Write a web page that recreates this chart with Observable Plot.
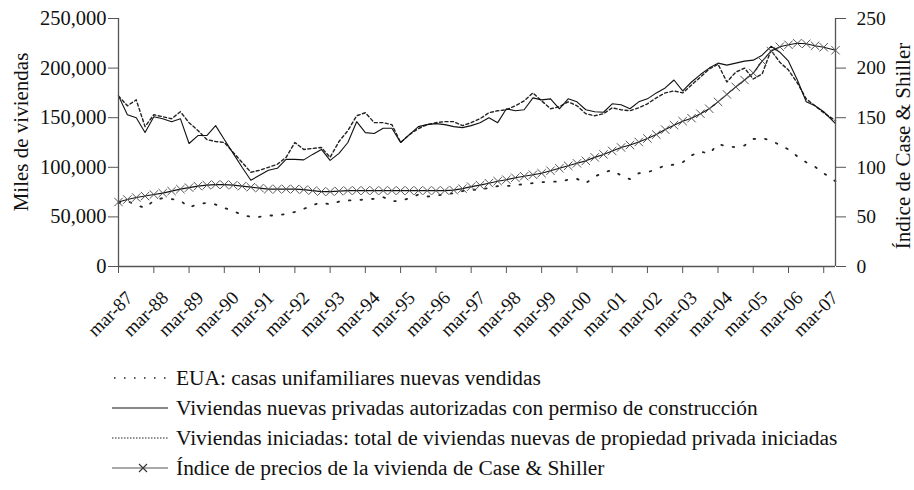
<!DOCTYPE html>
<html><head><meta charset="utf-8">
<script src="https://cdn.jsdelivr.net/npm/d3@7"></script>
<script src="https://cdn.jsdelivr.net/npm/@observablehq/plot@0.6"></script>
<style>
body{margin:0;background:#fff;font-family:"Liberation Serif","DejaVu Serif",serif;}
#chart{position:absolute;left:0;top:0;}
#overlay{position:absolute;left:0;top:0;width:914px;height:490px;pointer-events:none}
.row{position:absolute;left:112px;height:24px;display:flex;align-items:center;font-size:20px;color:#111;white-space:nowrap}
.row svg{margin-right:6px;flex:none}
.row span{display:inline-block;transform:scaleX(1.07);transform-origin:left center}
.ylab{position:absolute;color:#111;white-space:nowrap;transform:translate(-50%,-50%) rotate(-90deg)}
</style></head><body>
<div id="chart"></div>
<div id="overlay"></div>
<script>
const quarters = [
"1987-03","1987-06","1987-09","1987-12","1988-03","1988-06","1988-09","1988-12",
"1989-03","1989-06","1989-09","1989-12","1990-03","1990-06","1990-09","1990-12",
"1991-03","1991-06","1991-09","1991-12","1992-03","1992-06","1992-09","1992-12",
"1993-03","1993-06","1993-09","1993-12","1994-03","1994-06","1994-09","1994-12",
"1995-03","1995-06","1995-09","1995-12","1996-03","1996-06","1996-09","1996-12",
"1997-03","1997-06","1997-09","1997-12","1998-03","1998-06","1998-09","1998-12",
"1999-03","1999-06","1999-09","1999-12","2000-03","2000-06","2000-09","2000-12",
"2001-03","2001-06","2001-09","2001-12","2002-03","2002-06","2002-09","2002-12",
"2003-03","2003-06","2003-09","2003-12","2004-03","2004-06","2004-09","2004-12",
"2005-03","2005-06","2005-09","2005-12","2006-03","2006-06","2006-09","2006-12",
"2007-03","2007-07"];

// EUA: casas unifamiliares nuevas vendidas (miles)
const sales = [
64,66,62,59,66.5,69,68,66.5,59.5,63,
64,62.5,59,56,52,50,50,51.4,51.4,53,
55,58,62,64.5,62.5,65.5,66.5,67,67.5,68.2,
70,66,66,69,72.5,70.5,71.5,72.6,74,76,
77,78,79,81,81,82,83,84,85,85.5,
85.5,87.5,88.4,84,90.5,95,97,91.7,88,94,
95,98,102,102.6,105,112,116,113.6,123.5,121,
120.3,122,128.5,129.3,127,122.5,118,111,105,100.5,
94,86];

// Viviendas nuevas privadas autorizadas con permiso de construcción (miles)
const permits = [
172,153,150,135,151,149,146,149,124,132,
132,142,128,114,100,87,92,97,99,108,
108,107.5,113,118,107,114,125,146,135,134,
139.4,139.4,125,133,141,143,144,143,141,140,
142,145,150,145,159,157,158,170,168,169,
159,169,166,158,156,155.5,164,163,159,166,
169,175,180,188,177,186,193.5,200,205,203,
205,207,208,213,222,216,207,188,166,162,
156,144];

// Viviendas iniciadas: total de viviendas nuevas de propiedad privada iniciadas (miles)
const starts = [
172,162,168,141,153,151,149,156,145,137,
128,126,125,115,105,95,97,100,103,110,
125,118,119,120,110,126,137,152,155,145,
145,143,125,133,139,143,145,146,146,142,
145,149,155,157,158,162,167,175,167,159,
161,166,162,154,152,154,160,158,157,160,
164,170,175,177,175,183,191,199,204,186,
196,200,189,194,218,206,198,185,169,162,
155,147];

// Índice de precios de la vivienda de Case & Shiller
const caseShiller = [
65,67.5,69.5,71,72.5,74,76,78,79.5,81,
82,82.5,82.5,82,81,80,79,78,78,78,
78,77.5,76.5,75.5,75.5,76,76.5,76.5,76.5,76.5,
76.5,76.5,76.5,76.5,76.5,76.5,76.5,76.5,77,78.5,
80.5,82,84,86,87.5,89.5,91,92.5,94,96.5,
99,101.5,104,106.5,110,113,116.5,120,122.5,125.5,
129,133,138,142.5,146.5,149.5,154,159,166,173.5,
181,188,195,207,217,221.5,223.5,225,224.5,222.5,
221,218];

const yTicks = [0, 50000, 100000, 150000, 200000, 250000];
const rightTicks = [0, 50, 100, 150, 200, 250];
const xTickYears = ["87","88","89","90","91","92","93","94","95","96","97","98","99","00","01","02","03","04","05","06","07"];
const legendItems = [
  "EUA: casas unifamiliares nuevas vendidas",
  "Viviendas nuevas privadas autorizadas con permiso de construcción",
  "Viviendas iniciadas: total de viviendas nuevas de propiedad privada iniciadas",
  "Índice de precios de la vivienda de Case & Shiller"
];

const parse = d3.utcParse("%Y-%m");
const dates = quarters.map(parse);
const toRows = (vals, k) => vals.map((v, i) => ({date: dates[i], v: v * k}));
const salesRows = toRows(sales, 1000);
const permitRows = toRows(permits, 1000);
const startRows = toRows(starts, 1000);
const csRows = toRows(caseShiller, 1000); // right axis shares the pixel range (0–250 ↔ 0–250,000)

const xStart = parse("1987-03"), xEnd = parse("2007-07");
const marchTicks = xTickYears.map(y => parse((+y < 50 ? "20" : "19") + y + "-03"));
const tickLabels = marchTicks.map((d, i) => ({date: d, label: "mar-" + xTickYears[i]}));
const font = '"Liberation Serif","DejaVu Serif",serif';

const chart = Plot.plot({
  width: 914, height: 350,
  marginLeft: 118, marginRight: 79, marginTop: 18, marginBottom: 84,
  style: {fontFamily: font, fontSize: "19px", color: "#111", background: "#fff", overflow: "visible"},
  x: {type: "utc", domain: [xStart, xEnd]},
  y: {domain: [0, 250000]},
  marks: [
    Plot.line(salesRows, {x: "date", y: "v", stroke: "#222", strokeWidth: 1.8, strokeDasharray: "1.6,10"}),
    Plot.line(startRows, {x: "date", y: "v", stroke: "#222", strokeWidth: 1.4, strokeDasharray: "3,2.5"}),
    Plot.line(permitRows, {x: "date", y: "v", stroke: "#111", strokeWidth: 1.1}),
    Plot.line(csRows, {x: "date", y: "v", stroke: "#111", strokeWidth: 1.1}),
    Plot.dot(csRows, {x: "date", y: "v", symbol: "times", r: 3.9, stroke: "#555", strokeWidth: 1}),
    Plot.ruleX([xStart], {stroke: "#555", strokeWidth: 1.3}),
    Plot.ruleX([xEnd], {stroke: "#555", strokeWidth: 1.3}),
    Plot.ruleY([0], {stroke: "#555", strokeWidth: 1.3}),
    Plot.axisY({ticks: yTicks, tickFormat: d3.format(","), tickSize: 10, tickPadding: 2, label: null, stroke: "#555", fontSize: 20.5}),
    Plot.axisY({anchor: "right", ticks: yTicks, tickFormat: (d, i) => String(rightTicks[i]), tickSize: 10, tickPadding: 11, label: null, stroke: "#555", fontSize: 19.5}),
    Plot.axisX({ticks: marchTicks, tickFormat: () => "", tickSize: 7, label: null, stroke: "#555"}),
    Plot.text(tickLabels, {x: "date", text: "label", frameAnchor: "bottom", rotate: -45, textAnchor: "end", lineAnchor: "top", dx: 6, dy: 23, fontSize: 19, fill: "#111"})
  ]
});
document.getElementById("chart").appendChild(chart);

// Overlay: axis titles and legend
const overlay = document.getElementById("overlay");
const addLab = (txt, x, y, size) => {
  const s = document.createElement("span");
  s.className = "ylab"; s.textContent = txt;
  s.style.left = x + "px"; s.style.top = y + "px"; s.style.fontSize = size + "px";
  overlay.appendChild(s);
};
addLab("Miles de viviendas", 21, 132, 21);
addLab("Índice de Case & Shiller", 903, 146, 21);

const swatches = [
  '<line x1="2" y1="6" x2="58" y2="6" stroke="#222" stroke-width="1.6" stroke-dasharray="1.5,8.5"/>',
  '<line x1="0" y1="6" x2="56" y2="6" stroke="#111" stroke-width="1.2"/>',
  '<line x1="0" y1="6" x2="56" y2="6" stroke="#222" stroke-width="1.2" stroke-dasharray="1.5,1.5"/>',
  '<line x1="0" y1="6" x2="56" y2="6" stroke="#555" stroke-width="1.2"/><path d="M27,2L35,10M35,2L27,10" stroke="#333" stroke-width="1.1"/>'
];
const rowY = [378, 408, 438, 468];
legendItems.forEach((t, i) => {
  const r = document.createElement("div");
  r.className = "row";
  r.style.top = (rowY[i] - 12) + "px";
  r.innerHTML = '<svg width="58" height="12">' + swatches[i] + '</svg><span></span>';
  r.querySelector("span").textContent = t;
  overlay.appendChild(r);
});
</script>
</body></html>
